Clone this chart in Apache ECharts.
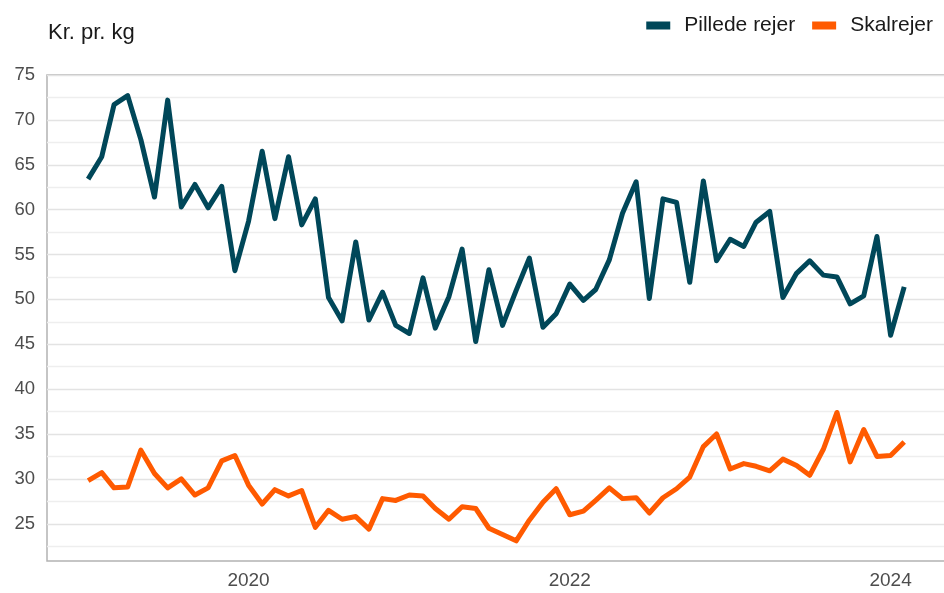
<!DOCTYPE html>
<html><head><meta charset="utf-8">
<script src="https://cdn.jsdelivr.net/npm/echarts@6/dist/echarts.min.js"></script>
<style>html,body{margin:0;padding:0;background:#fff}#c{width:944px;height:593px}</style>
</head><body><div id="c"></div>
<script>
const months = ['2019-01','2019-02','2019-03','2019-04','2019-05','2019-06','2019-07','2019-08','2019-09','2019-10','2019-11','2019-12',
'2020-01','2020-02','2020-03','2020-04','2020-05','2020-06','2020-07','2020-08','2020-09','2020-10','2020-11','2020-12',
'2021-01','2021-02','2021-03','2021-04','2021-05','2021-06','2021-07','2021-08','2021-09','2021-10','2021-11','2021-12',
'2022-01','2022-02','2022-03','2022-04','2022-05','2022-06','2022-07','2022-08','2022-09','2022-10','2022-11','2022-12',
'2023-01','2023-02','2023-03','2023-04','2023-05','2023-06','2023-07','2023-08','2023-09','2023-10','2023-11','2023-12',
'2024-01','2024-02'];
const pillede = [63.4,65.9,71.7,72.7,67.8,61.4,72.2,60.3,62.8,60.2,62.6,53.2,
58.7,66.5,59.0,65.9,58.3,61.2,50.2,47.6,56.4,47.7,50.8,47.1,
46.2,52.4,46.8,50.3,55.6,45.3,53.3,47.1,51.0,54.6,46.9,48.4,
51.7,49.9,51.1,54.4,59.6,63.1,50.1,61.2,60.8,51.9,63.2,54.3,
56.7,55.9,58.6,59.8,50.2,52.9,54.3,52.7,52.5,49.5,50.4,57.0,
46.0,51.4];
const skal = [29.8,30.7,29.0,29.1,33.2,30.6,29.0,30.0,28.2,29.0,32.0,32.6,
29.3,27.2,28.8,28.1,28.7,24.6,26.5,25.5,25.8,24.4,27.8,27.6,
28.2,28.1,26.7,25.5,26.9,26.7,24.5,23.8,23.1,25.4,27.4,28.9,
26.0,26.4,27.6,29.0,27.8,27.9,26.2,27.9,28.9,30.2,33.6,35.0,
31.1,31.7,31.4,30.9,32.2,31.5,30.4,33.3,37.4,31.9,35.5,32.5,
32.6,34.1];
const seriesNames = ['Pillede rejer','Skalrejer'];
const yLabelValues = [25,30,35,40,45,50,55,60,65,70,75];
const yGridValues = [22.5,25,27.5,30,32.5,35,37.5,40,42.5,45,47.5,50,52.5,55,57.5,60,62.5,65,67.5,70,72.5,75];
const xTickYears = [2020,2022,2024];

function toTime(m){const p=m.split('-');return new Date(+p[0],+p[1]-1,1).getTime();}
const DAY = 86400000;
const xMin = new Date(2020,0,1).getTime() - 458.6*DAY;
const xMax = xMin + 2048*DAY;
const font = "'Liberation Sans', Arial, sans-serif";
const chart = echarts.init(document.getElementById('c'));
chart.setOption({
  animation:false,
  textStyle:{fontFamily:font},
  title:{text:'Kr. pr. kg',left:48,top:22,padding:0,textStyle:{fontSize:22,fontWeight:'normal',color:'#1a1a1a',fontFamily:font}},
  legend:{data:seriesNames,right:6,top:10,icon:'rect',itemWidth:24,itemHeight:8,itemGap:17,
    textStyle:{fontSize:21,color:'#1a1a1a',fontFamily:font,padding:[0,0,0,9]}},
  grid:{left:47,width:900,top:75,bottom:32,show:true,borderColor:'#b3b3b3',borderWidth:1.5,containLabel:false,outerBoundsMode:'none'},
  xAxis:{type:'value',min:xMin,max:xMax,
    axisLine:{show:false},axisTick:{show:false},splitLine:{show:false},
    axisLabel:{customValues:xTickYears.map(y=>new Date(y,0,1).getTime()),
      formatter:v=>String(new Date(v).getFullYear()),fontSize:19,color:'#4d4d4d',margin:10,fontFamily:font}},
  yAxis:{type:'value',min:20.85,max:75,
    axisLine:{show:false},axisTick:{show:false,customValues:yGridValues},
    splitLine:{show:true,lineStyle:{color:['#eeeeee','#e3e3e3'],width:1.3}},
    axisLabel:{customValues:yLabelValues,fontSize:18.5,color:'#4d4d4d',margin:12,fontFamily:font}},
  series:[
    {name:seriesNames[0],type:'line',showSymbol:false,data:months.map((m,i)=>[toTime(m),pillede[i]]),
      lineStyle:{width:5,color:'#004759',join:'round'},itemStyle:{color:'#004759'}},
    {name:seriesNames[1],type:'line',showSymbol:false,data:months.map((m,i)=>[toTime(m),skal[i]]),
      lineStyle:{width:5,color:'#ff5a00',join:'round'},itemStyle:{color:'#ff5a00'}}
  ]
});
</script></body></html>
